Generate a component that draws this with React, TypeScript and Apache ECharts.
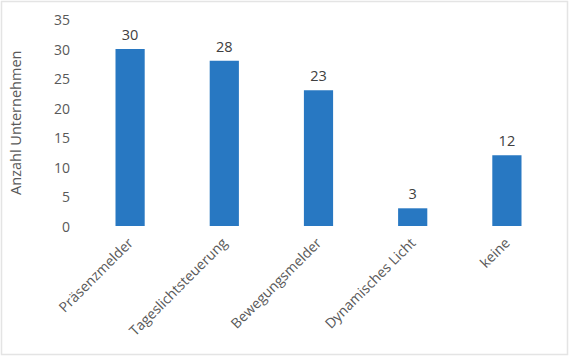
import React, { useEffect, useRef } from "react";
import * as echarts from "echarts";

const categories = ["Präsenzmelder", "Tageslichtsteuerung", "Bewegungsmelder", "Dynamisches Licht", "keine"];
const values = [30, 28, 23, 3, 12];
const yAxisName = "Anzahl Unternehmen";

export default function App() {
  const ref = useRef<HTMLDivElement>(null);
  useEffect(() => {
    if (!ref.current) return;
    const chart = echarts.init(ref.current, null, { renderer: "svg" });
    const font = "'Open Sans', sans-serif";
    chart.setOption({
      animation: false,
      backgroundColor: "#ffffff",
      textStyle: { fontFamily: font },
      graphic: [
        {
          type: "rect",
          shape: { x: 1.5, y: 1.5, width: 566, height: 353 },
          style: { fill: "none", stroke: "#e4e4e4", lineWidth: 1.5 },
          silent: true,
        },
      ],
      grid: { left: 81, right: 16, top: 19.5, bottom: 132 },
      xAxis: {
        type: "category",
        data: categories,
        axisLine: { show: false },
        axisTick: { show: false },
        axisLabel: { rotate: 45, color: "#595959", fontSize: 14, fontFamily: font, margin: 14, interval: 0 },
      },
      yAxis: {
        type: "value",
        min: 0,
        max: 35,
        interval: 5,
        name: yAxisName,
        nameLocation: "middle",
        nameGap: 60,
        nameTextStyle: { color: "#595959", fontSize: 14.5, fontFamily: font },
        axisLine: { show: false },
        axisTick: { show: false },
        splitLine: { show: false },
        axisLabel: { color: "#595959", fontSize: 14, fontFamily: font, margin: 13 },
      },
      series: [
        {
          type: "bar",
          data: values,
          barWidth: "31%",
          itemStyle: { color: "#2878c2" },
          label: { show: true, position: "top", distance: 7, color: "#404040", fontSize: 14.5, fontFamily: font },
        },
      ],
    });
    return () => chart.dispose();
  }, []);
  return <div ref={ref} style={{ position: "fixed", left: 0, top: 0, width: 570, height: 358 }} />;
}
